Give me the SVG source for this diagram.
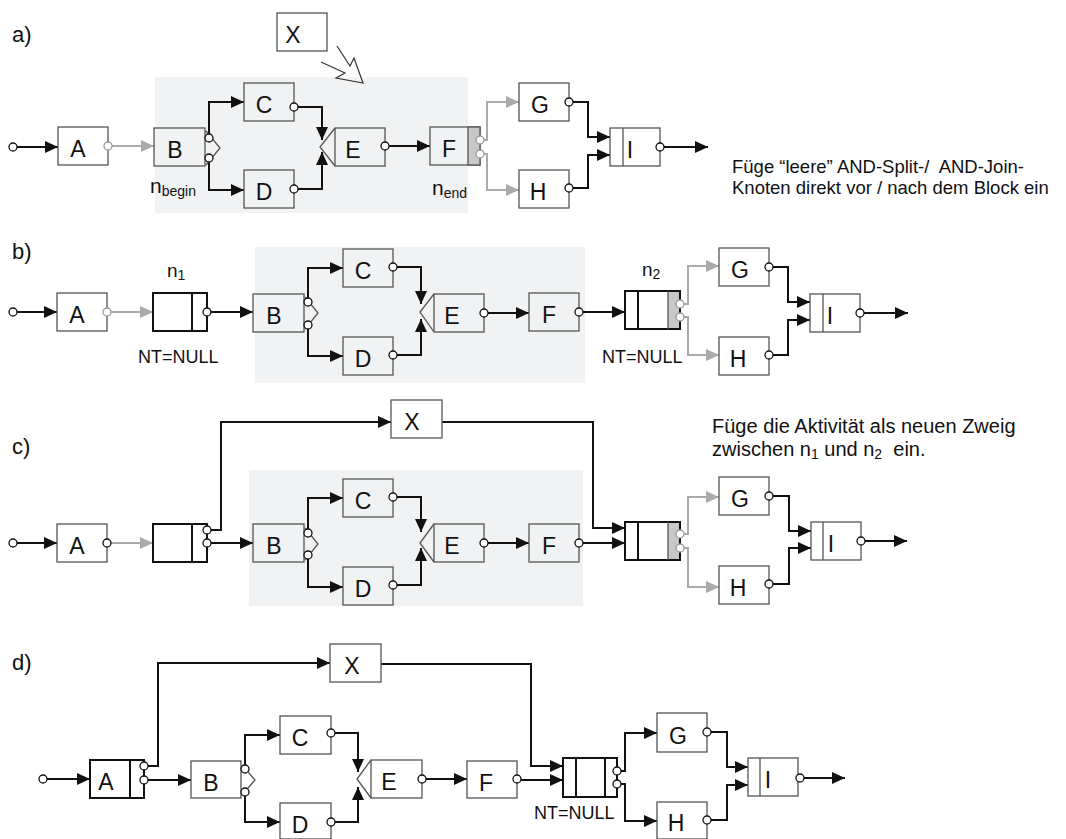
<svg xmlns="http://www.w3.org/2000/svg" width="1066" height="839" viewBox="0 0 1066 839">
<style>
text{font-family:"Liberation Sans",Arial,sans-serif;fill:#111}
.lbl{font-size:23px;text-anchor:middle}
.row{font-size:22px}
.note{font-size:18.5px}
.note2{font-size:20px}
.small{font-size:18px}
.sub{font-size:14px}
.area{fill:#f1f2f4}
.box{fill:#fff;stroke:#555;stroke-width:1.3}
.boxg{fill:#f1f2f4;stroke:#555;stroke-width:1.3}
.nd{fill:#fff;stroke:#111;stroke-width:2}
.ln{fill:none;stroke:#555;stroke-width:1.3}
.lnb{fill:none;stroke:#111;stroke-width:2}
.band{fill:#c8c8c8;stroke:#555;stroke-width:1.3}
.c{fill:none;stroke:#111;stroke-width:2;marker-end:url(#ah)}
.g{fill:none;stroke:#aaa;stroke-width:2;marker-end:url(#ahg)}
.p{fill:#fff;stroke:#111;stroke-width:1.3}
.pg{fill:#fff;stroke:#999;stroke-width:1.3}
</style>
<defs>
<marker id="ah" markerWidth="13" markerHeight="12" refX="13" refY="6" orient="auto" markerUnits="userSpaceOnUse"><path d="M0,0 L13,6 L0,12 z" fill="#111"/></marker>
<marker id="ahg" markerWidth="13" markerHeight="12" refX="13" refY="6" orient="auto" markerUnits="userSpaceOnUse"><path d="M0,0 L13,6 L0,12 z" fill="#aaa"/></marker>
</defs>

<g id="backgrounds">
<rect class="area" x="155" y="77" width="313" height="136"/>
<rect class="area" x="255" y="247" width="330" height="136"/>
<rect class="area" x="249" y="470" width="334" height="136"/>
</g>
<g id="row-labels">
<text class="row" x="12" y="42">a)</text>
<text class="row" x="12" y="259">b)</text>
<text class="row" x="12" y="454">c)</text>
<text class="row" x="12" y="670">d)</text>
</g>
<g id="notes">
<text class="note" x="732" y="173" xml:space="preserve">Füge “leere” AND-Split-/  AND-Join-</text>
<text class="note" x="732" y="194">Knoten direkt vor / nach dem Block ein</text>
<text class="note2" x="712" y="433">Füge die Aktivität als neuen Zweig</text>
<text class="note2" x="712" y="456" xml:space="preserve">zwischen n<tspan class="sub" dy="3">1</tspan><tspan dy="-3"> und n</tspan><tspan class="sub" dy="3">2</tspan><tspan dy="-3">  ein.</tspan></text>
</g>

<g id="connectors">
<!-- row a -->
<path class="c" d="M13,147 H58"/>
<path class="g" d="M108,146 H154"/>
<path class="c" d="M209,134 V102 H244"/>
<path class="c" d="M209,161 V190 H244"/>
<path class="c" d="M297,107 H322 V140"/>
<path class="c" d="M297,189 H322 V152"/>
<path class="c" d="M388,146 H430"/>
<path class="g" d="M483,140 H487 V102 H519"/>
<path class="g" d="M483,154 H487 V190 H519"/>
<path class="c" d="M572,102 H588 V137 H610"/>
<path class="c" d="M572,188 H588 V155 H610"/>
<path class="c" d="M663,147 H708"/>
<path d="M337,46 L350,66 L354,58 L363,83 L336,78 L345,73 L321,62" fill="none" stroke="#333" stroke-width="1.2"/>
<!-- row b -->
<path class="c" d="M13,312 H57"/>
<path class="g" d="M107,312 H153"/>
<path class="c" d="M210,312 H253"/>
<path class="c" d="M308,298 V268 H343"/>
<path class="c" d="M308,329 V356 H343"/>
<path class="c" d="M396,267 H421 V304"/>
<path class="c" d="M396,355 H421 V319"/>
<path class="c" d="M487,313 H529"/>
<path class="c" d="M582,312 H625"/>
<path class="g" d="M683,304 H688 V266 H719"/>
<path class="g" d="M683,317 H688 V355 H719"/>
<path class="c" d="M772,267 H788 V302 H810"/>
<path class="c" d="M772,355 H788 V320 H810"/>
<path class="c" d="M863,313 H908"/>
<!-- row c -->
<path class="c" d="M13,543 H57"/>
<path class="g" d="M110,543 H153"/>
<path class="c" d="M210,530 H221 V422 H391"/>
<path class="c" d="M210,543 H253"/>
<path class="c" d="M308,529 V498 H343"/>
<path class="c" d="M308,558 V587 H343"/>
<path class="c" d="M396,497 H421 V532"/>
<path class="c" d="M396,585 H421 V548"/>
<path class="c" d="M487,543 H529"/>
<path class="c" d="M582,543 H625"/>
<path class="c" d="M442,422 H593 V528 H625"/>
<path class="g" d="M683,534 H688 V497 H719"/>
<path class="g" d="M683,548 H688 V587 H719"/>
<path class="c" d="M772,496 H789 V531 H811"/>
<path class="c" d="M772,584 H789 V548 H811"/>
<path class="c" d="M864,541 H907"/>
<!-- row d -->
<path class="c" d="M43,779 H90"/>
<path class="c" d="M147,766 H158 V663 H330"/>
<path class="c" d="M147,780 H191"/>
<path class="c" d="M245,765 V735 H280"/>
<path class="c" d="M245,795 V822 H280"/>
<path class="c" d="M334,733 H358 V772"/>
<path class="c" d="M334,822 H358 V787"/>
<path class="c" d="M425,779 H467"/>
<path class="c" d="M520,780 H563"/>
<path class="c" d="M381,664 H531 V766 H563"/>
<path class="c" d="M620,771 H625 V733 H657"/>
<path class="c" d="M620,784 H625 V821 H657"/>
<path class="c" d="M710,732 H727 V767 H748"/>
<path class="c" d="M710,820 H727 V785 H748"/>
<path class="c" d="M803,778 H845"/>
</g>

<!-- row a nodes -->
<g id="a-start"><circle class="p" cx="13" cy="147" r="4"/></g>
<g id="a-X"><rect class="box" x="277" y="13" width="50" height="38"/><text class="lbl" x="293" y="43">X</text></g>
<g id="a-A"><rect class="box" x="58" y="127" width="50" height="38"/><text class="lbl" x="78" y="157">A</text><circle class="pg" cx="108" cy="146" r="4"/></g>
<g id="a-B"><rect class="boxg" x="154" y="128" width="51" height="38"/><polyline class="ln" points="206,131 220,148 206,165"/><text class="lbl" x="175" y="158">B</text><circle class="p" cx="209" cy="138" r="4"/><circle class="p" cx="209" cy="158" r="4"/>
<text x="150" y="193" font-size="21">n<tspan class="sub" dy="3">begin</tspan></text></g>
<g id="a-C"><rect class="boxg" x="244" y="83" width="50" height="38"/><text class="lbl" x="264" y="113">C</text><circle class="p" cx="294" cy="107" r="4"/></g>
<g id="a-D"><rect class="boxg" x="244" y="170" width="50" height="38"/><text class="lbl" x="264" y="200">D</text><circle class="p" cx="294" cy="189" r="4"/></g>
<g id="a-E"><rect class="boxg" x="335" y="128" width="50" height="38"/><polyline class="ln" points="335,128 320,147 335,166"/><text class="lbl" x="353" y="158">E</text><circle class="p" cx="385" cy="146" r="4"/></g>
<g id="a-F"><rect class="boxg" x="430" y="127" width="50" height="38"/><rect class="band" x="468" y="127" width="12" height="38"/><text class="lbl" x="449" y="157">F</text><circle class="pg" cx="480" cy="140" r="4"/><circle class="pg" cx="480" cy="154" r="4"/>
<text x="432" y="195" font-size="21">n<tspan class="sub" dy="3">end</tspan></text></g>
<g id="a-G"><rect class="box" x="519" y="83" width="50" height="38"/><text class="lbl" x="540" y="113">G</text><circle class="p" cx="569" cy="102" r="4"/></g>
<g id="a-H"><rect class="box" x="519" y="170" width="50" height="38"/><text class="lbl" x="538" y="200">H</text><circle class="p" cx="569" cy="188" r="4"/></g>
<g id="a-I"><rect class="box" x="610" y="128" width="50" height="38"/><line class="ln" x1="623" y1="128" x2="623" y2="166"/><text class="lbl" x="630" y="158">I</text><circle class="p" cx="660" cy="147" r="4"/></g>

<!-- row b nodes -->
<g id="b-start"><circle class="p" cx="13" cy="312" r="4"/></g>
<g id="b-A"><rect class="box" x="57" y="293" width="50" height="38"/><text class="lbl" x="77" y="323">A</text><circle class="pg" cx="107" cy="312" r="4"/></g>
<g id="b-n1"><rect class="nd" x="153" y="293" width="54" height="38"/><line class="lnb" x1="192" y1="293" x2="192" y2="331"/><circle class="p" cx="207" cy="312" r="4"/>
<text x="167" y="277" font-size="19">n<tspan class="sub" dy="3">1</tspan></text><text class="small" x="138" y="363">NT=NULL</text></g>
<g id="b-B"><rect class="boxg" x="253" y="294" width="51" height="38"/><polyline class="ln" points="305,297 318,313 305,329"/><text class="lbl" x="274" y="324">B</text><circle class="p" cx="308" cy="302" r="4"/><circle class="p" cx="308" cy="325" r="4"/></g>
<g id="b-C"><rect class="boxg" x="343" y="249" width="50" height="38"/><text class="lbl" x="363" y="279">C</text><circle class="p" cx="393" cy="267" r="4"/></g>
<g id="b-D"><rect class="boxg" x="343" y="337" width="50" height="38"/><text class="lbl" x="363" y="367">D</text><circle class="p" cx="393" cy="355" r="4"/></g>
<g id="b-E"><rect class="boxg" x="434" y="294" width="50" height="38"/><polyline class="ln" points="434,294 420,312 434,332"/><text class="lbl" x="452" y="324">E</text><circle class="p" cx="484" cy="313" r="4"/></g>
<g id="b-F"><rect class="boxg" x="529" y="293" width="50" height="38"/><text class="lbl" x="549" y="323">F</text><circle class="p" cx="579" cy="312" r="4"/></g>
<g id="b-n2"><rect class="nd" x="625" y="291" width="55" height="38"/><rect x="668" y="292" width="11" height="36" fill="#c8c8c8"/><line class="lnb" x1="638" y1="291" x2="638" y2="329"/><line class="ln" x1="668" y1="291" x2="668" y2="329"/><circle class="pg" cx="680" cy="304" r="4"/><circle class="pg" cx="680" cy="317" r="4"/>
<text x="642" y="276" font-size="19">n<tspan class="sub" dy="3">2</tspan></text><text class="small" x="602" y="363">NT=NULL</text></g>
<g id="b-G"><rect class="box" x="719" y="248" width="50" height="38"/><text class="lbl" x="740" y="278">G</text><circle class="p" cx="769" cy="267" r="4"/></g>
<g id="b-H"><rect class="box" x="719" y="337" width="50" height="38"/><text class="lbl" x="738" y="367">H</text><circle class="p" cx="769" cy="355" r="4"/></g>
<g id="b-I"><rect class="box" x="810" y="294" width="50" height="38"/><line class="ln" x1="823" y1="294" x2="823" y2="332"/><text class="lbl" x="830" y="324">I</text><circle class="p" cx="860" cy="313" r="4"/></g>

<!-- row c nodes -->
<g id="c-start"><circle class="p" cx="13" cy="543" r="4"/></g>
<g id="c-A"><rect class="box" x="57" y="524" width="50" height="38"/><text class="lbl" x="77" y="554">A</text><circle class="p" cx="107" cy="543" r="4"/></g>
<g id="c-n1"><rect class="nd" x="153" y="524" width="54" height="38"/><line class="lnb" x1="192" y1="524" x2="192" y2="562"/><circle class="p" cx="207" cy="530" r="4"/><circle class="p" cx="207" cy="543" r="4"/></g>
<g id="c-X"><rect class="box" x="391" y="400" width="51" height="38"/><text class="lbl" x="412" y="430">X</text></g>
<g id="c-B"><rect class="boxg" x="253" y="524" width="51" height="38"/><polyline class="ln" points="305,528 318,544 305,560"/><text class="lbl" x="274" y="554">B</text><circle class="p" cx="308" cy="533" r="4"/><circle class="p" cx="308" cy="555" r="4"/></g>
<g id="c-C"><rect class="boxg" x="343" y="479" width="50" height="38"/><text class="lbl" x="363" y="509">C</text><circle class="p" cx="393" cy="497" r="4"/></g>
<g id="c-D"><rect class="boxg" x="343" y="567" width="50" height="38"/><text class="lbl" x="363" y="597">D</text><circle class="p" cx="393" cy="585" r="4"/></g>
<g id="c-E"><rect class="boxg" x="434" y="524" width="50" height="38"/><polyline class="ln" points="434,524 420,543 434,562"/><text class="lbl" x="452" y="554">E</text><circle class="p" cx="484" cy="543" r="4"/></g>
<g id="c-F"><rect class="boxg" x="529" y="524" width="50" height="38"/><text class="lbl" x="549" y="554">F</text><circle class="p" cx="579" cy="543" r="4"/></g>
<g id="c-n2"><rect class="nd" x="625" y="522" width="55" height="38"/><rect x="668" y="523" width="11" height="36" fill="#c8c8c8"/><line class="lnb" x1="638" y1="522" x2="638" y2="560"/><line class="ln" x1="668" y1="522" x2="668" y2="560"/><circle class="pg" cx="680" cy="534" r="4"/><circle class="pg" cx="680" cy="548" r="4"/></g>
<g id="c-G"><rect class="box" x="719" y="477" width="50" height="38"/><text class="lbl" x="740" y="507">G</text><circle class="p" cx="769" cy="496" r="4"/></g>
<g id="c-H"><rect class="box" x="719" y="566" width="50" height="38"/><text class="lbl" x="738" y="596">H</text><circle class="p" cx="769" cy="584" r="4"/></g>
<g id="c-I"><rect class="box" x="811" y="522" width="50" height="38"/><line class="ln" x1="823" y1="522" x2="823" y2="560"/><text class="lbl" x="831" y="552">I</text><circle class="p" cx="861" cy="541" r="4"/></g>

<!-- row d nodes -->
<g id="d-start"><circle class="p" cx="43" cy="779" r="4"/></g>
<g id="d-A"><rect class="nd" x="90" y="760" width="54" height="38"/><line class="lnb" x1="130" y1="760" x2="130" y2="798"/><text class="lbl" x="106" y="790">A</text><circle class="p" cx="144" cy="766" r="4"/><circle class="p" cx="144" cy="780" r="4"/></g>
<g id="d-X"><rect class="box" x="330" y="644" width="51" height="38"/><text class="lbl" x="352" y="674">X</text></g>
<g id="d-B"><rect class="box" x="191" y="761" width="50" height="37"/><polyline class="ln" points="242,765 255,780 242,795"/><text class="lbl" x="211" y="791">B</text><circle class="p" cx="245" cy="769" r="4"/><circle class="p" cx="245" cy="792" r="4"/></g>
<g id="d-C"><rect class="box" x="280" y="716" width="51" height="38"/><text class="lbl" x="300" y="746">C</text><circle class="p" cx="331" cy="733" r="4"/></g>
<g id="d-D"><rect class="box" x="280" y="803" width="51" height="36"/><text class="lbl" x="300" y="833">D</text><circle class="p" cx="331" cy="822" r="4"/></g>
<g id="d-E"><rect class="box" x="371" y="760" width="51" height="38"/><polyline class="ln" points="371,760 357,779 371,798"/><text class="lbl" x="389" y="790">E</text><circle class="p" cx="422" cy="779" r="4"/></g>
<g id="d-F"><rect class="box" x="467" y="761" width="50" height="37"/><text class="lbl" x="486" y="791">F</text><circle class="p" cx="517" cy="779" r="4"/></g>
<g id="d-n2"><rect class="nd" x="563" y="758" width="54" height="39"/><line class="lnb" x1="576" y1="758" x2="576" y2="797"/><line class="lnb" x1="605" y1="758" x2="605" y2="797"/><circle class="p" cx="617" cy="771" r="4"/><circle class="p" cx="617" cy="784" r="4"/>
<text class="small" x="534" y="819">NT=NULL</text></g>
<g id="d-G"><rect class="box" x="657" y="713" width="50" height="39"/><text class="lbl" x="678" y="744">G</text><circle class="p" cx="707" cy="732" r="4"/></g>
<g id="d-H"><rect class="box" x="657" y="802" width="50" height="37"/><text class="lbl" x="676" y="831">H</text><circle class="p" cx="707" cy="820" r="4"/></g>
<g id="d-I"><rect class="box" x="748" y="758" width="50" height="38"/><line class="ln" x1="760" y1="758" x2="760" y2="796"/><text class="lbl" x="768" y="788">I</text><circle class="p" cx="800" cy="778" r="4"/></g>
</svg>
